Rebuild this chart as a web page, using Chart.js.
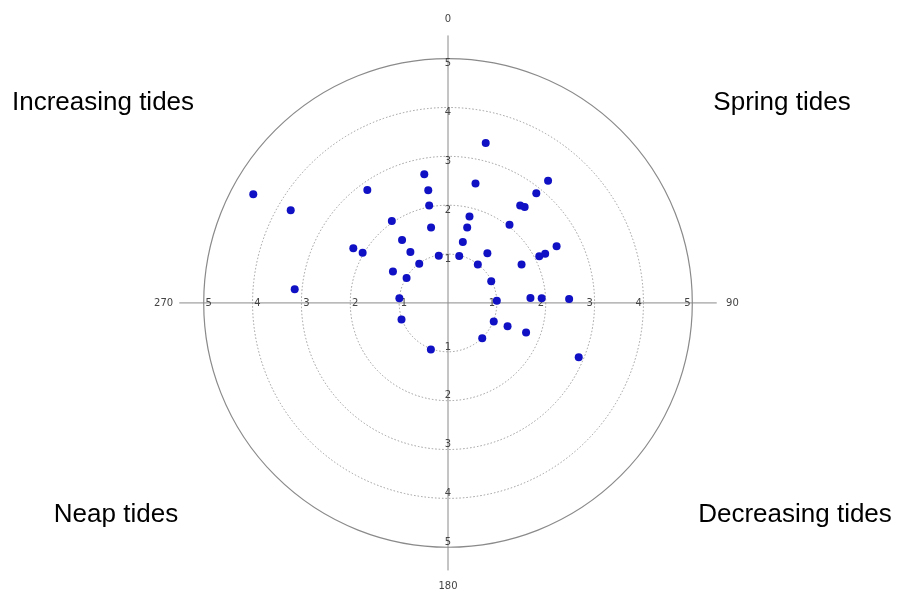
<!DOCTYPE html>
<html>
<head>
<meta charset="utf-8">
<script src="https://cdn.jsdelivr.net/npm/chart.js@4/dist/chart.umd.min.js"></script>
<style>
  html, body { margin: 0; padding: 0; background: #fff; }
  #wrap { position: relative; width: 898px; height: 596px; }
  .quad { position: absolute; font-family: "Liberation Sans", Arial, sans-serif; font-size: 26px; color: #000; white-space: nowrap; transform: translate(-50%, -50%); }
</style>
</head>
<body>
<div id="wrap">
  <canvas id="polar" width="898" height="596"></canvas>
  <div class="quad" style="left:103px;top:101px;">Increasing tides</div>
  <div class="quad" style="left:782px;top:101px;">Spring tides</div>
  <div class="quad" style="left:116px;top:513px;">Neap tides</div>
  <div class="quad" style="left:795px;top:513px;">Decreasing tides</div>
</div>
<script>
// Observations: direction in degrees (clockwise from north) and radius
const angles = [
  299.3, 300.6, 275.1, 324.6, 300.1, 300.6, 349.6, 350.1, 349.1, 325.7,
  347.4, 324.0, 323.7, 349.0, 323.9, 299.9, 301.1, 275.4, 13.2, 12.9,
  39.2, 38.7, 36.4, 38.5, 13.9, 14.2, 38.1, 13.6, 13.4, 38.3,
  62.3, 62.8, 63.1, 37.6, 62.3, 63.3, 87.3, 86.6, 87.1, 88.1,
  250.4, 200.1, 112.1, 111.5, 110.9, 136.1, 112.7
];
const radii = [
  4.57, 3.74, 3.15, 2.85, 2.24, 2.03, 2.69, 2.35, 2.04, 2.04,
  1.59, 1.60, 1.30, 0.99, 1.00, 1.30, 0.99, 1.00, 3.38, 2.52,
  3.24, 2.89, 2.49, 2.52, 1.83, 1.60, 2.04, 1.29, 0.99, 1.30,
  2.51, 2.10, 2.23, 1.00, 1.70, 0.99, 1.00, 1.69, 1.92, 2.48,
  1.01, 1.02, 1.01, 1.31, 1.71, 1.01, 2.90
];
const rings = [1, 2, 3, 4, 5];
const ringLabels = ["1", "2", "3", "4", "5"];
const compassLabels = ["0", "90", "180", "270"];
const compassAngles = [0, 90, 180, 270];

const points = angles.map((a, i) => {
  const t = a * Math.PI / 180;
  return { x: radii[i] * Math.sin(t), y: radii[i] * Math.cos(t) };
});

// polar grid drawn on the cartesian scales
const polarGrid = {
  id: "polarGrid",
  beforeDatasetsDraw(chart) {
    const { ctx, scales: { x, y } } = chart;
    const cx = x.getPixelForValue(0), cy = y.getPixelForValue(0);
    const unit = x.getPixelForValue(1) - cx;
    ctx.save();
    // rings
    rings.forEach(r => {
      ctx.beginPath();
      ctx.arc(cx, cy, r * unit, 0, Math.PI * 2);
      if (r === 5) {
        ctx.setLineDash([]);
        ctx.strokeStyle = "#8a8a8a";
        ctx.lineWidth = 1.2;
      } else {
        ctx.setLineDash([1.5, 2]);
        ctx.strokeStyle = "#9a9a9a";
        ctx.lineWidth = 1;
      }
      ctx.stroke();
    });
    // cross
    ctx.setLineDash([]);
    ctx.strokeStyle = "#8a8a8a";
    ctx.lineWidth = 1;
    const ext = 5.5;
    ctx.beginPath();
    ctx.moveTo(cx, y.getPixelForValue(ext));
    ctx.lineTo(cx, y.getPixelForValue(-ext));
    ctx.moveTo(x.getPixelForValue(-ext), cy);
    ctx.lineTo(x.getPixelForValue(ext), cy);
    ctx.stroke();
    // ring labels on the four axes
    ctx.fillStyle = "#444";
    ctx.font = "10px 'DejaVu Sans', sans-serif";
    ctx.textAlign = "center";
    ctx.textBaseline = "middle";
    rings.forEach((r, i) => {
      const d = (r - 0.1) * unit;
      ctx.fillText(ringLabels[i], cx, cy - d);
      ctx.fillText(ringLabels[i], cx, cy + d);
      ctx.fillText(ringLabels[i], cx - d, cy);
      ctx.fillText(ringLabels[i], cx + d, cy);
    });
    // compass labels
    compassAngles.forEach((a, i) => {
      const t = a * Math.PI / 180, d = 5.82;
      ctx.fillText(compassLabels[i], x.getPixelForValue(d * Math.sin(t)), y.getPixelForValue(d * Math.cos(t)));
    });
    ctx.restore();
  }
};

const unitPx = 49.3, cxPx = 448, cyPx = 303, W = 898, H = 596;

new Chart(document.getElementById("polar"), {
  type: "scatter",
  data: {
    datasets: [{
      data: points,
      backgroundColor: "#1010c4",
      borderColor: "#1010c4",
      pointRadius: 4,
      borderWidth: 0
    }]
  },
  options: {
    responsive: false,
    animation: false,
    layout: { padding: 0 },
    plugins: { legend: { display: false }, tooltip: { enabled: false } },
    scales: {
      x: { type: "linear", display: false, min: -cxPx / unitPx, max: (W - cxPx) / unitPx },
      y: { type: "linear", display: false, min: -(H - cyPx) / unitPx, max: cyPx / unitPx }
    }
  },
  plugins: [polarGrid]
});
</script>
</body>
</html>
